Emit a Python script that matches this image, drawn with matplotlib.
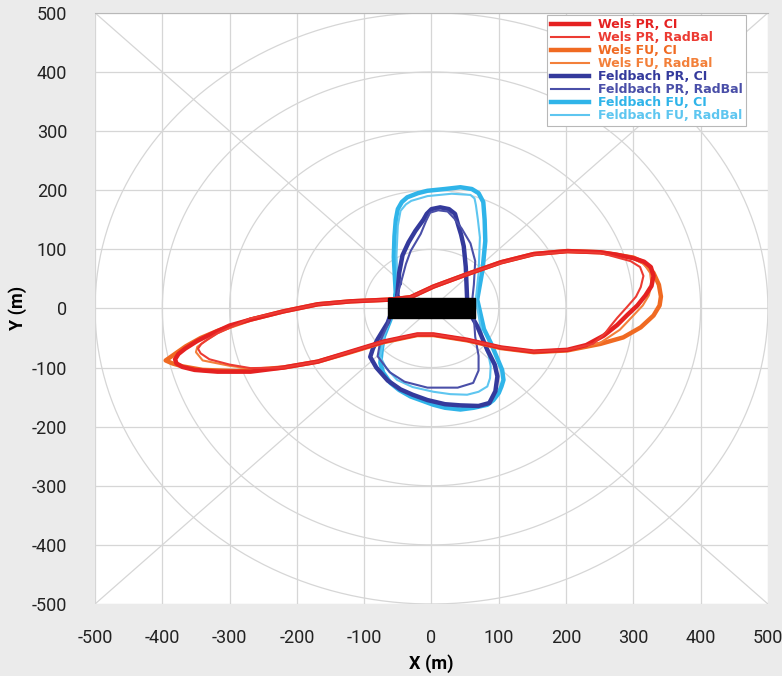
import numpy as np
import matplotlib.pyplot as plt
from matplotlib.patches import Rectangle

plt.rcParams['axes.unicode_minus'] = False

# --- data (metres) ---
wels_pr_ci_x = [-60, -120, -169, -220, -269, -300, -325, -348, -366, -376, -381, -379, -370, -352, -318,
                -269, -220, -169, -120, -71, -21, 3, 53, 103, 152, 202, 230, 256, 276, 291, 306, 318,
                327, 330, 326, 316, 300, 275, 251, 202, 152, 103, 53, 3, -31, -60]
wels_pr_ci_y = [15, 12, 7, -5, -19, -29, -42, -55, -68, -77, -86, -93, -99, -104, -107,
                -107, -100, -90, -73, -56, -44, -44, -53, -66, -73, -70, -62, -46, -28, -11, 5, 22,
                38, 55, 70, 79, 85, 91, 95, 97, 92, 78, 58, 37, 19, 15]

wels_pr_rb_x = [-60, -120, -169, -220, -269, -318, -332, -342, -347, -343, -330, -300, -269, -220,
                -169, -120, -71, -21, 3, 53, 103, 152, 202, 240, 258, 266, 276, 291, 304, 311, 315,
                310, 296, 251, 202, 152, 103, 53, 3, -31, -60]
wels_pr_rb_y = [15, 12, 7, -5, -17, -42, -52, -60, -68, -76, -86, -95, -101, -100,
                -90, -73, -56, -44, -44, -53, -66, -73, -70, -60, -42, -30, -16, 3, 20, 36, 55,
                70, 80, 94, 96, 91, 77, 58, 37, 19, 15]

wels_fu_ci_x = [-60, -120, -169, -220, -269, -318, -343, -365, -380, -395, -385, -370, -340, -290, -220,
                -169, -120, -71, -21, 3, 53, 103, 152, 202, 251, 285, 311, 330, 339, 341, 338, 330,
                315, 300, 251, 202, 152, 103, 53, 3, -31, -60]
wels_fu_ci_y = [15, 12, 7, -5, -19, -38, -50, -64, -76, -88, -93, -98, -104, -106, -100,
                -90, -74, -57, -45, -45, -54, -67, -74, -71, -60, -49, -32, -12, 5, 20, 40, 60,
                78, 86, 95, 97, 92, 78, 58, 37, 19, 15]

wels_fu_rb_x = [-60, -120, -169, -220, -269, -318, -336, -348, -350, -340, -300, -269, -220,
                -169, -120, -71, -21, 3, 53, 103, 152, 202, 251, 280, 300, 314, 323, 327, 325, 316,
                300, 251, 202, 152, 103, 53, 3, -31, -60]
wels_fu_rb_y = [15, 12, 7, -5, -17, -42, -55, -65, -74, -88, -97, -102, -100,
                -90, -74, -57, -45, -45, -54, -67, -74, -71, -58, -36, -12, 5, 22, 40, 60, 75,
                84, 94, 96, 91, 77, 58, 37, 19, 15]

feld_pr_ci_x = [-51, -48, -43, -34, -24, -12, -7, 0, 13, 26, 35, 40, 44, 48, 51, 53,
                58, 68, 83, 94, 98, 95, 86, 70, 43, 20,
                -6, -28, -46, -65, -82, -91, -87, -80, -65, -51]
feld_pr_ci_y = [19, 60, 90, 112, 131, 150, 160, 168, 171, 168, 160, 140, 125, 105, 70, 15,
                -10, -30, -70, -95, -115, -140, -160, -165, -164, -162,
                -155, -146, -137, -122, -100, -82, -68, -52, -24, 19]

feld_pr_rb_x = [-46, -38, -31, -16, -8, -2, 10, 24, 34, 45, 58, 65, 63, 61, 65, 70, 70, 62, 39,
                -6, -40, -62, -80, -76, -66, -46]
feld_pr_rb_y = [41, 75, 97, 126, 148, 162, 166, 164, 152, 135, 110, 80, 40, 19, -48, -80, -105, -126, -134,
                -134, -124, -108, -81, -55, -30, 41]

feld_fu_ci_x = [-53, -56, -55, -53, -50, -44, -36, -20, -6, 20, 43, 60, 70, 77, 79, 80, 78, 76, 68,
                78, 88, 98, 105, 107, 104, 100, 92, 83, 63, 43,
                20, 3, -31, -48, -61, -72, -76, -74, -71, -61, -53]
feld_fu_ci_y = [24, 87, 122, 150, 168, 180, 188, 195, 199, 202, 205, 202, 195, 180, 150, 114, 90, 66, 15,
                -35, -58, -85, -104, -121, -132, -143, -155, -163, -168, -171,
                -168, -163, -149, -138, -126, -108, -92, -70, -48, -19, 24]

feld_fu_rb_x = [-50, -52, -50, -46, -38, -30, -6, 30, 58, 64, 66, 69, 72, 70, 66, 77, 85, 88, 87, 83, 70, 53,
                28, 3, -28, -51, -68, -76, -70, -60, -50]
feld_fu_rb_y = [24, 90, 140, 165, 176, 182, 190, 194, 192, 186, 175, 150, 120, 60, 15, -58, -80, -98, -118, -132, -141, -146,
                -145, -141, -133, -121, -100, -81, -45, -15, 24]

series = [
    ("Feldbach FU, CI", feld_fu_ci_x, feld_fu_ci_y, "#2fb4e9", 3.2),
    ("Feldbach FU, RadBal", feld_fu_rb_x, feld_fu_rb_y, "#5ec6f0", 1.5),
    ("Feldbach PR, CI", feld_pr_ci_x, feld_pr_ci_y, "#343a9c", 3.2),
    ("Feldbach PR, RadBal", feld_pr_rb_x, feld_pr_rb_y, "#4a4fa8", 1.5),
    ("Wels FU, CI", wels_fu_ci_x, wels_fu_ci_y, "#f06a22", 3.2),
    ("Wels FU, RadBal", wels_fu_rb_x, wels_fu_rb_y, "#f3803a", 1.5),
    ("Wels PR, CI", wels_pr_ci_x, wels_pr_ci_y, "#e52121", 3.2),
    ("Wels PR, RadBal", wels_pr_rb_x, wels_pr_rb_y, "#ec3b33", 1.5),
]
legend_order = ["Wels PR, CI", "Wels PR, RadBal", "Wels FU, CI", "Wels FU, RadBal",
                "Feldbach PR, CI", "Feldbach PR, RadBal", "Feldbach FU, CI", "Feldbach FU, RadBal"]

ticks = np.arange(-500, 501, 100)
rings = [100, 200, 300, 400, 500]
bar_x, bar_y, bar_w, bar_h = -65, -17, 129, 34

tick_font = 'Roboto'

fig = plt.figure(figsize=(7.82, 6.76), dpi=100)
fig.patch.set_facecolor('#ebebeb')
ax = fig.add_axes([0.1215, 0.1065, 0.8605, 0.8745])
ax.set_facecolor('white')

grid_c = '#d6d6d6'
for t in ticks:
    ax.axvline(t, color=grid_c, lw=0.9, zorder=0)
    ax.axhline(t, color=grid_c, lw=0.9, zorder=0)
th = np.linspace(0, 2 * np.pi, 400)
for r in rings:
    ax.plot(r * np.cos(th), r * np.sin(th), color=grid_c, lw=0.9, zorder=0)
ax.plot([-500, 500], [-500, 500], color=grid_c, lw=0.9, zorder=0)
ax.plot([-500, 500], [500, -500], color=grid_c, lw=0.9, zorder=0)

handles = {}
for name, xs, ys, c, lw in series:
    h, = ax.plot(xs, ys, color=c, lw=lw, solid_joinstyle='round', label=name, zorder=3)
    handles[name] = h

ax.add_patch(Rectangle((bar_x, bar_y), bar_w, bar_h, color='black', zorder=5))

ax.set_xlim(-500, 500)
ax.set_ylim(-500, 500)
ax.set_xticks(ticks)
ax.set_yticks(ticks)
for s in ax.spines.values():
    s.set_visible(False)
ax.spines['top'].set_visible(True)
ax.spines['top'].set_color('#b8b8b8')
ax.tick_params(axis='x', length=0, pad=18, labelsize=13, labelcolor='#222222')
ax.tick_params(axis='y', length=0, pad=20, labelsize=13, labelcolor='#222222')
for lab in ax.get_xticklabels() + ax.get_yticklabels():
    lab.set_family(tick_font)
ax.set_xlabel("X (m)", fontsize=13, fontweight='bold', family=tick_font)
ax.set_ylabel("Y (m)", fontsize=13, fontweight='bold', family=tick_font)
ax.xaxis.set_label_coords(0.5, -0.085)
ax.yaxis.set_label_coords(-0.101, 0.5)

leg = ax.legend([handles[n] for n in legend_order], legend_order,
                loc='upper right', bbox_to_anchor=(0.968, 0.997), fancybox=False,
                framealpha=1, edgecolor='#b8b8b8', handlelength=3.0, handletextpad=0.75,
                labelspacing=0.0, borderpad=0.3, borderaxespad=0, labelcolor='linecolor',
                prop={'family': 'DejaVu Sans', 'weight': 'bold', 'size': 9})
leg.get_frame().set_linewidth(0.8)
leg.set_zorder(10)

fig.savefig("out.png", dpi=100, facecolor=fig.get_facecolor())
